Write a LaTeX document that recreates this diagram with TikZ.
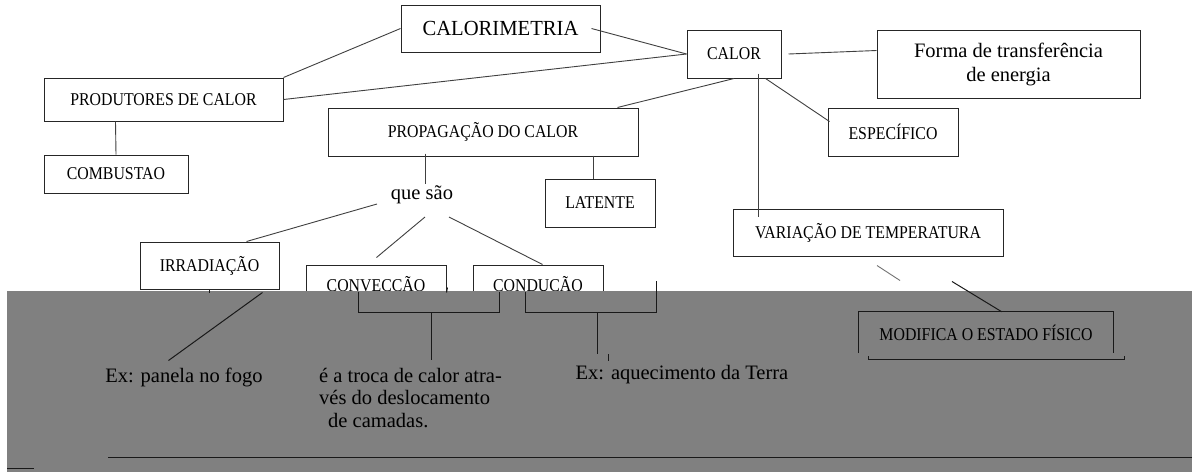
\documentclass[tikz,border=0pt]{standalone}
\usepackage{fontspec}
\usepackage{graphicx}
\setmainfont{Liberation Serif}
\usetikzlibrary{calc}
\newcommand{\bxt}[1]{{\fontsize{18}{20}\selectfont\scalebox{0.88}[1]{#1}}}
\newcommand{\bigt}[1]{{\fontsize{21.5}{23}\selectfont\scalebox{0.96}[1]{#1}}}
\begin{document}
\begin{tikzpicture}[x=1pt,y=-1pt,
  box/.style={draw=black!85, line width=1pt, inner sep=0pt},
  conn/.style={draw=black!75, line width=0.9pt},
  darkconn/.style={draw=black!90, line width=1pt},
  lowtext/.style={inner sep=0pt, font=\fontsize{20.5}{22.5}\selectfont},
  ghost/.style={inner sep=0pt}]
\useasboundingbox (0,0) rectangle (1192,472);
\fill[white] (0,0) rectangle (1192,472);

% upper layer boxes
\node[box, minimum width=199pt, minimum height=47pt] (calorim) at (500.5,28.5) {\bigt{CALORIMETRIA}};
\node[box, minimum width=94pt, minimum height=48pt] (calor) at (734,54) {\bxt{CALOR}};
\node[box, minimum width=263pt, minimum height=68pt, align=center,
      font=\fontsize{20.5}{24}\selectfont] (forma) at (1008.5,64) {Forma de transferência\\de energia};
\node[box, minimum width=239pt, minimum height=43pt] (prod) at (163.5,99.5) {\bxt{PRODUTORES DE CALOR}};
\node[box, minimum width=144pt, minimum height=38pt] (comb) at (116,174) {\bxt{COMBUSTAO}};
\node[box, minimum width=310pt, minimum height=48pt] (prop) at (483,132) {\bxt{PROPAGAÇÃO DO CALOR}};
\node[box, minimum width=130pt, minimum height=48pt] (esp) at (893,132) {\bxt{ESPECÍFICO}};
\node[box, minimum width=110pt, minimum height=48pt] (lat) at (600,203) {\bxt{LATENTE}};
\node[box, minimum width=270pt, minimum height=47pt] (var) at (868,232.5) {\bxt{VARIAÇÃO DE TEMPERATURA}};
\node[box, minimum width=139pt, minimum height=47pt] (irr) at (209.5,265.5) {\bxt{IRRADIAÇÃO}};
\node[box, minimum width=140pt, minimum height=47pt, text depth=10pt] (conv) at (376,288.5) {\bxt{CONVECCÃO}};
\node[box, minimum width=130pt, minimum height=47pt, text depth=10pt] (cond) at (538,288.5) {\bxt{CONDUÇÃO}};
\node[lowtext] (que) at (422,195) {que são};

% upper layer connectors
\draw[conn] ($(calorim.east)+(-9,0)$) -- (calor.west);
\draw[conn] (calorim.west) -- (prod.north east);
\draw[conn] (prod.east) -- (calor.west);
\draw[conn] ($(calor.east)+(7,0)$) -- ($(forma.north west)+(0,21)$);
\draw[conn] (calor.south) -- ($(prop.north east)+(-21,0)$);
\draw[conn] ($(calor.south east)+(-16,0)$) -- ($(esp.north west)+(2,14)$);
\draw[conn] ($(calor.south west)+(72,-5)$) -- ($(var.north west)+(26,8)$);
\draw[conn] ($(prod.south west)+(72,0)$) -- (comb.north);
\draw[conn] ($(lat.north)+(-7,-23)$) -- ($(lat.north)+(-7,0)$);
\draw[conn] ($(prop.south west)+(98,-3)$) -- ($(prop.south west)+(98,27)$);
\draw[conn] ($(que)+(-45,9)$) -- ($(irr.north)+(37,0)$);
\draw[conn] ($(que)+(3,22)$) -- ($(conv.north west)+(71,-7)$);
\draw[conn] ($(que)+(27,22)$) -- ($(cond.north west)+(70,0)$);
\draw[draw=black!55, line width=0.9pt] ($(var.south)+(9,9)$) -- ($(var.south)+(32,24)$);

% shifted lower layer
\fill[black!50] (7,291) rectangle (1192,472);

\node[ghost, minimum width=140pt, minimum height=47pt] (convsh) at ($(conv)+(53,0)$) {};
\node[ghost, minimum width=130pt, minimum height=47pt] (condsh) at ($(cond)+(53,0)$) {};

\draw[darkconn] ($(convsh.south west)+(0,-20)$) -- (convsh.south west) -- (convsh.south east) -- ++(0,-20);
\draw[darkconn] ($(convsh.south)+(2,0)$) -- ++(0,48);
\draw[darkconn] ($(condsh.south west)+(0,-20)$) -- (condsh.south west) -- (condsh.south east) -- ++(0,-31);
\draw[darkconn] ($(condsh.south)+(6,0)$) -- ++(0,42);
\draw[darkconn] ($(condsh.south)+(17,42)$) -- ++(0,7);
\draw[darkconn] ($(conv.north east)+(1,23)$) -- ++(-1,5);
\draw[darkconn] ($(irr.south)+(0,0)$) -- ++(0,3);
\draw[darkconn] ($(irr.south east)+(-17,3)$) -- ($(irr.south east)+(-111,71)$);

\node[lowtext] (expan) at (184,377) {Ex: panela no fogo};
\node[lowtext, anchor=north west, align=left] (convtxt) at (319,368)
  {é a troca de calor atra-\\vés do deslocamento\\\hspace*{9pt}de camadas.};
\node[lowtext] (exterra) at (682,375) {Ex: aquecimento da Terra};

\node[ghost, minimum width=254pt, minimum height=41pt] (modbox) at (986,332.5) {\bxt{MODIFICA O ESTADO FÍSICO}};
\draw[darkconn] (modbox.south west) -- (modbox.north west) -- (modbox.north east) -- (modbox.south east);
\draw[darkconn] ($(modbox.south west)+(10,3)$) -- ++(0,3) -- ($(modbox.south east)+(11,6)$) -- ++(0,-3);
\draw[darkconn] ($(var.south)+(84,25)$) -- ($(modbox.north west)+(143,0)$);

\draw[darkconn] (108,457) -- (1192,457);
\draw[darkconn] (7,468) -- (34,468);
\end{tikzpicture}
\end{document}
